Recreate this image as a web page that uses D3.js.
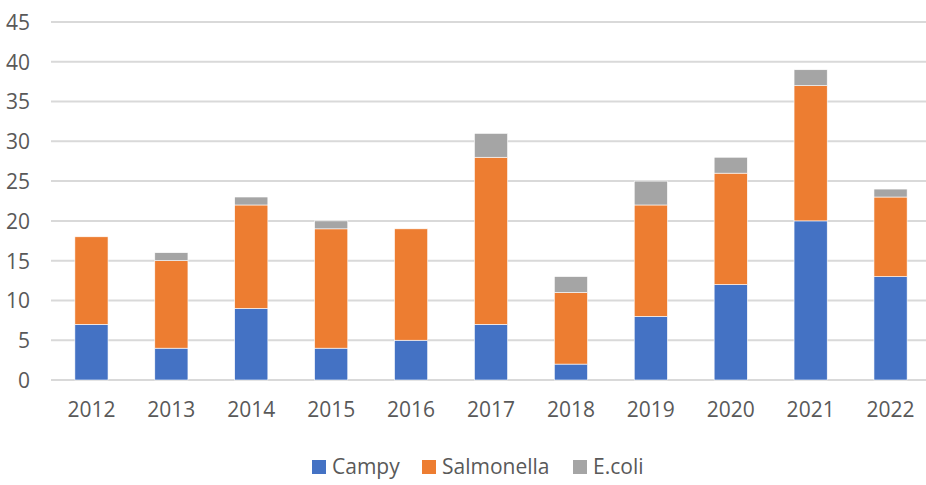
<!DOCTYPE html>
<html><head><meta charset="utf-8">
<script src="https://cdn.jsdelivr.net/npm/d3@7"></script>
<style>body{margin:0;background:#fff;}svg{display:block;font-family:"Open Sans",sans-serif;}</style>
</head><body>
<script>
const years = ["2012","2013","2014","2015","2016","2017","2018","2019","2020","2021","2022"];
const campy = [7,4,9,4,5,7,2,8,12,20,13];
const salmonella = [11,11,13,15,14,21,9,14,14,17,10];
const ecoli = [0,1,1,1,0,3,2,3,2,2,1];
const seriesNames = ["Campy","Salmonella","E.coli"];
const colors = ["#4472C4","#ED7D31","#A5A5A5"];
const yTicks = [0,5,10,15,20,25,30,35,40,45];

const W = 926, H = 485;
const svg = d3.select("body").append("svg").attr("width",W).attr("height",H);
const x = d3.scaleBand().domain(years).range([51.5,930.5]).paddingInner(0.585).paddingOuter(0.2925);
const y = d3.scaleLinear().domain([0,45]).range([380,22]);

// gridlines
svg.append("g").selectAll("line").data(yTicks).join("line")
  .attr("x1",51).attr("x2",926).attr("y1",d=>y(d)).attr("y2",d=>y(d))
  .attr("stroke","#D9D9D9").attr("stroke-width",2);

const table = years.map((yr,i)=>({year:yr,Campy:campy[i],Salmonella:salmonella[i],"E.coli":ecoli[i]}));
const stacked = d3.stack().keys(seriesNames)(table);

svg.append("g").selectAll("g").data(stacked).join("g")
  .attr("fill",(d,i)=>colors[i])
  .selectAll("rect").data(d=>d.filter(s=>s[1]-s[0]>0)).join("rect")
  .attr("x",d=>x(d.data.year)).attr("width",x.bandwidth())
  .attr("y",d=>y(d[1])).attr("height",d=>y(d[0])-y(d[1]))
  .attr("stroke","#fff").attr("stroke-width",0.6);

// y axis labels
const yAxis = d3.axisLeft(y).tickValues(yTicks).tickSize(0).tickPadding(0);
const ya = svg.append("g").attr("transform","translate(30,0)").call(yAxis);
ya.select(".domain").remove();
ya.selectAll("text").attr("font-size",21).attr("fill","#595959").attr("font-family","'Open Sans',sans-serif").attr("dy","0.35em");

// x axis labels
const xAxis = d3.axisBottom(x).tickSize(0).tickPadding(0);
const xa = svg.append("g").attr("transform","translate(0,402)").call(xAxis);
xa.select(".domain").remove();
xa.selectAll("text").attr("font-size",21).attr("fill","#595959").attr("font-family","'Open Sans',sans-serif").attr("dy","0.71em");

// legend
const legendX = [312,422,573];
const lg = svg.append("g").selectAll("g").data(seriesNames).join("g")
  .attr("transform",(d,i)=>`translate(${legendX[i]},467)`);
lg.append("rect").attr("x",0).attr("y",-7).attr("width",14).attr("height",14).attr("fill",(d,i)=>colors[i]);
lg.append("text").attr("x",20).attr("y",0).attr("dy","0.35em").attr("font-size",21).attr("fill","#595959").text(d=>d);
</script>
</body></html>
